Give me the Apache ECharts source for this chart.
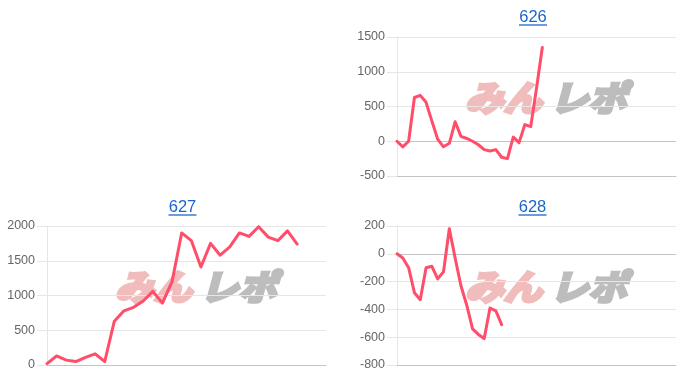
<!DOCTYPE html>
<html>
<head>
<meta charset="utf-8">
<style>
html,body{margin:0;padding:0;background:#fff;}
#chart{width:700px;height:380px;}
</style>
<script src="https://cdn.jsdelivr.net/npm/echarts@6/dist/echarts.min.js"></script>
</head>
<body>
<div id="chart"></div>
<script>
// ---- data ----
const titles = ['626', '627', '628'];
const slotsLong = ['1','2','3','4','5','6','7','8','9','10','11','12','13','14','15','16','17','18','19','20','21','22','23','24','25','26','27','28','29','30','31','32','33','34','35','36','37','38','39','40','41','42','43','44','45','46','47','48','49'];
const slotsShort = ['1','2','3','4','5','6','7','8','9','10','11','12','13','14','15','16','17','18','19','20','21','22','23','24','25','26','27','28','29','30'];
const values626 = [0,-80,0,630,660,560,290,30,-80,-30,280,70,40,0,-50,-120,-140,-120,-230,-250,60,-20,240,210,760,1350];
const values627 = [20,130,70,50,110,160,50,630,780,830,920,1060,890,1200,1900,1790,1410,1750,1580,1700,1900,1850,1990,1840,1790,1930,1740];
const values628 = [0,-30,-100,-280,-330,-100,-90,-180,-130,180,-30,-230,-370,-540,-580,-610,-390,-410,-510];
const yTicks626 = {min:-500, max:1500, interval:500};
const yTicks627 = {min:0, max:2000, interval:500};
const yTicks628 = {min:-800, max:200, interval:200};
const logoParts = ['みん', 'レポ'];

// ---- styles ----
const LINE = '#ff4d6a';
const GRIDC = '#e6e6e6';
const ZEROC = '#c4c4c4';
const TITLEC = '#1a66cc';
const FONT = '"Liberation Sans", Arial, sans-serif';

const grids = [
  {left:397, top:37, width:279, height:139},
  {left:47, top:226, width:279, height:139},
  {left:397, top:226, width:279, height:139}
];
const slotSets = [slotsLong, slotsShort, slotsLong];
const ticks = [yTicks626, yTicks627, yTicks628];
const datas = [values626, values627, values628];

const xAxes = grids.map((g, i) => ({
  type:'category', gridIndex:i, data:slotSets[i], boundaryGap:false,
  axisLine:{show:true, onZero:false, lineStyle:{color:ZEROC, width:1}},
  axisTick:{show:false}, axisLabel:{show:false}, splitLine:{show:false}
}));
const yAxes = grids.map((g, i) => ({
  type:'value', gridIndex:i, min:ticks[i].min, max:ticks[i].max, interval:ticks[i].interval,
  axisLine:{show:true, lineStyle:{color:GRIDC, width:1}},
  axisTick:{show:true, length:10, lineStyle:{color:GRIDC}},
  axisLabel:{show:true, margin:12, color:'#666', fontSize:12.5, fontFamily:FONT,
    formatter:(v) => String(v)},
  splitLine:{show:true, lineStyle:{color:GRIDC, width:1}}
}));
const series = datas.map((d, i) => {
  const s = {
    type:'line', xAxisIndex:i, yAxisIndex:i, data:d, showSymbol:false, symbol:'none',
    lineStyle:{color:LINE, width:3, join:'round', cap:'round'}, itemStyle:{color:LINE},
    animation:false, z:5
  };
  if (ticks[i].min < 0) {
    s.markLine = {
      silent:true, symbol:['none','none'], animation:false,
      label:{show:false},
      lineStyle:{color:ZEROC, width:1, type:'solid'},
      data:[{yAxis:0}]
    };
  }
  return s;
});

const graphic = [];
const titlePos = [[533, 17.5], [182.5, 207.5], [532.5, 207.5]];
titles.forEach((t, i) => {
  const [cx, cy] = titlePos[i];
  graphic.push({type:'text', x:cx, y:cy, z:10,
    style:{text:t, fill:TITLEC, font:'16.5px ' + FONT, textAlign:'center', textVerticalAlign:'middle'}});
  graphic.push({type:'line', z:10,
    shape:{x1:cx-14, y1:cy+7.5, x2:cx+14, y2:cy+7.5},
    style:{stroke:TITLEC, lineWidth:1.3}});
});
grids.forEach((g, i) => {
  const x0 = g.left + 68, yc = g.top + 61;
  graphic.push({type:'text', x:x0, y:yc, z:0, scaleX:1.1,
    style:{text:logoParts[0], fill:'#f1bcbc', stroke:'#f1bcbc', lineWidth:3.5, lineJoin:'round',
      font:'italic bold 35px "Noto Sans CJK JP"', textAlign:'left', textVerticalAlign:'middle'}});
  graphic.push({type:'text', x:x0 + 85, y:yc, z:0, scaleX:1.1,
    style:{text:logoParts[1], fill:'#bdbdbd', stroke:'#bdbdbd', lineWidth:3.5, lineJoin:'round',
      font:'italic bold 35px "Noto Sans CJK JP"', textAlign:'left', textVerticalAlign:'middle'}});
});

const chart = echarts.init(document.getElementById('chart'), null, {renderer:'canvas'});
chart.setOption({
  animation:false,
  backgroundColor:'#fff',
  grid:grids,
  xAxis:xAxes,
  yAxis:yAxes,
  series:series,
  graphic:graphic
});
</script>
</body>
</html>
